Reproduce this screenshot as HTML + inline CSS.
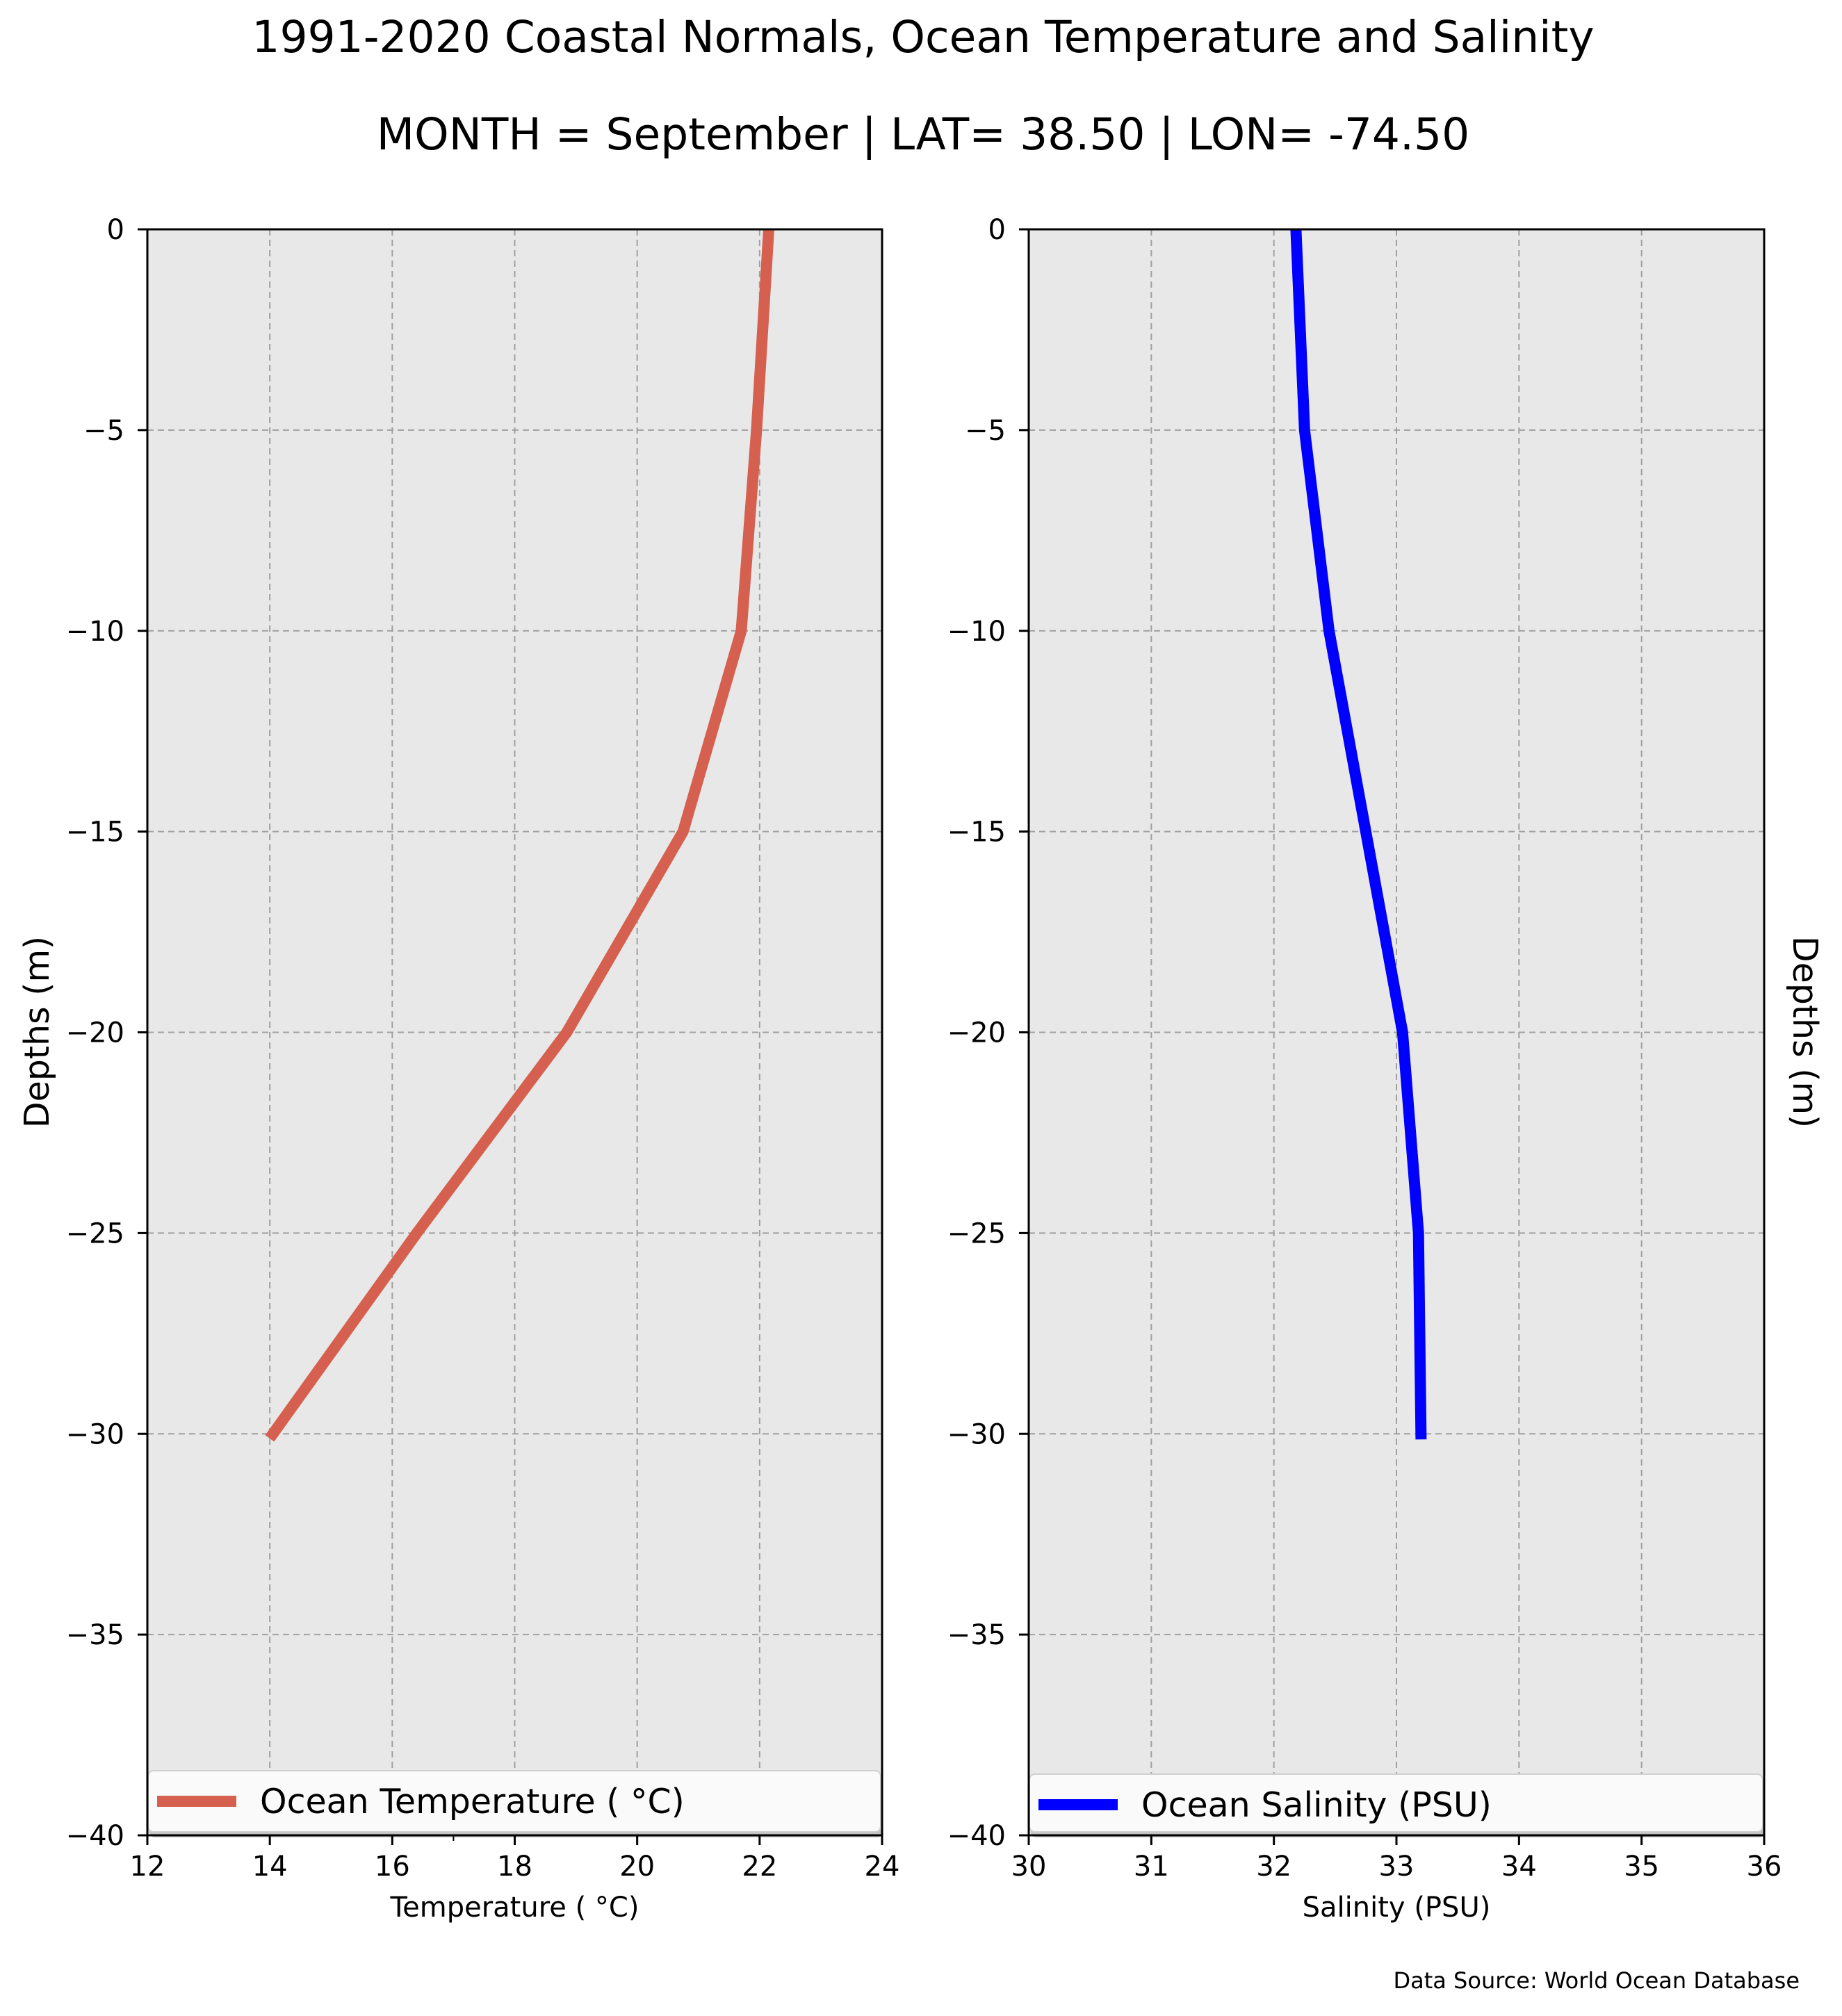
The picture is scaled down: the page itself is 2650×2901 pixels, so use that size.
<!DOCTYPE html>
<html><head><meta charset="utf-8"><style>
html,body{margin:0;padding:0;background:#fff;}
svg{display:block;font-family:"DejaVu Sans","Liberation Sans",sans-serif;}
</style></head><body>
<svg id="chart" width="2650" height="2901" viewBox="0 0 2650 2901" xmlns="http://www.w3.org/2000/svg">
<defs>
<clipPath id="clipL"><rect x="212" y="330" width="1057" height="2311"/></clipPath>
<clipPath id="clipR"><rect x="1480" y="330" width="1058" height="2311"/></clipPath>
</defs>
<text x="1328" y="75" font-size="63" text-anchor="middle">1991-2020 Coastal Normals, Ocean Temperature and Salinity</text>
<text x="1328" y="215" font-size="63" text-anchor="middle">MONTH = September | LAT= 38.50 | LON= -74.50</text>
<g id="panels"></g>
<text x="2589" y="2861" font-size="32" text-anchor="end">Data Source: World Ocean Database</text>
</svg>
<script>
const depths = [0, -5, -10, -15, -20, -25, -30];
const temperature = [22.15, 21.95, 21.7, 20.75, 18.85, 16.4, 14.05];
const salinity = [32.18, 32.25, 32.45, 32.75, 33.05, 33.18, 33.2];
const yTicks = [0, -5, -10, -15, -20, -25, -30, -35, -40];
const yTickLabels = ["0", "\u22125", "\u221210", "\u221215", "\u221220", "\u221225", "\u221230", "\u221235", "\u221240"];
const tempTicks = [12, 14, 16, 18, 20, 22, 24];
const salTicks = [30, 31, 32, 33, 34, 35, 36];

const NS = "http://www.w3.org/2000/svg";
const root = document.getElementById('panels');
function mk(tag, attrs, parent) {
  const e = document.createElementNS(NS, tag);
  for (const k in attrs) e.setAttribute(k, attrs[k]);
  (parent || root).appendChild(e);
  return e;
}
const yTop = 330, yBot = 2641;
function yScale(v) { return yTop + (0 - v) / 40 * (yBot - yTop); }

function panel(cfg) {
  const g = mk('g', {});
  
  
  const x0 = cfg.x0, x1 = cfg.x1;
  const xs = v => x0 + (v - cfg.min) / (cfg.max - cfg.min) * (x1 - x0);
  const bg = mk('rect', {x: x0, y: yTop, width: x1 - x0, height: yBot - yTop, fill: '#e8e8e8'}, g);
  
  
  cfg.ticks.forEach(t => {
    const l = mk('line', {x1: xs(t), x2: xs(t), y1: yTop, y2: yBot, stroke: '#a0a0a0', 'stroke-width': 2, 'stroke-dasharray': '9,6'}, g);
    
    
  });
  yTicks.forEach(t => {
    const l = mk('line', {x1: x0, x2: x1, y1: yScale(t), y2: yScale(t), stroke: '#a0a0a0', 'stroke-width': 2, 'stroke-dasharray': '9,6'}, g);
    
    
  });
  const pts = cfg.values.map((v, i) => xs(v).toFixed(1) + ',' + yScale(depths[i]).toFixed(1)).join(' ');
  const pl = mk('polyline', {points: pts, fill: 'none', stroke: cfg.color, 'stroke-width': 16, 'stroke-linejoin': 'round', 'stroke-linecap': 'square', 'clip-path': 'url(#' + cfg.clip + ')'}, g);
  
  
  const lg = mk('g', {}, g);
  
  
  mk('rect', {x: x0 + 3, y: cfg.legTop + 5, width: x1 - x0 - 2, height: yBot - cfg.legTop - 2, rx: 8, fill: '#b0b0b0', opacity: 0.7}, lg);
  mk('rect', {x: x0 + 1, y: cfg.legTop, width: x1 - x0 - 3, height: yBot - cfg.legTop - 5, rx: 8, fill: '#fafafa', stroke: '#d0d0d0', 'stroke-width': 2}, lg);
  const ls = mk('line', {x1: x0 + 14, x2: x0 + 128, y1: cfg.legTop + 44, y2: cfg.legTop + 44, stroke: cfg.color, 'stroke-width': 16}, lg);
  
  
  const lt = mk('text', {x: x0 + 162, y: cfg.legTop + 61, 'font-size': 49}, lg);
  lt.textContent = cfg.legend;
  
  
  const sp = mk('rect', {x: x0, y: yTop, width: x1 - x0, height: yBot - yTop, fill: 'none', stroke: '#000', 'stroke-width': 3}, g);
  
  
  cfg.ticks.forEach(t => {
    const tk = mk('line', {x1: xs(t), x2: xs(t), y1: yBot, y2: yBot + 14, stroke: '#000', 'stroke-width': 3}, g);
    
    
    const tl = mk('text', {x: xs(t), y: 2699, 'font-size': 40, 'text-anchor': 'middle'}, g);
    tl.textContent = String(t);
    
    
  });
  (cfg.minor || []).forEach(t => {
    const tk = mk('line', {x1: xs(t), x2: xs(t), y1: yBot, y2: yBot + 8, stroke: '#000', 'stroke-width': 2}, g);
    
    
  });
  yTicks.forEach((t, i) => {
    const tk = mk('line', {x1: x0 - 14, x2: x0, y1: yScale(t), y2: yScale(t), stroke: '#000', 'stroke-width': 3}, g);
    
    
    const tl = mk('text', {x: x0 - 33, y: yScale(t) + 14, 'font-size': 40, 'text-anchor': 'end'}, g);
    tl.textContent = yTickLabels[i];
    
    
  });
  const xl = mk('text', {x: (x0 + x1) / 2, y: 2758, 'font-size': 40, 'text-anchor': 'middle'}, g);
  xl.textContent = cfg.xlabel;
  
  
}

panel({name: 'temperature-panel', x0: 212, x1: 1269, min: 12, max: 24, ticks: tempTicks, minor: [17], values: temperature, color: '#d6604f', clip: 'clipL', seriesName: 'temperature-line', legend: 'Ocean Temperature ( \u00b0C)', legTop: 2548, xlabel: 'Temperature ( \u00b0C)'});
panel({name: 'salinity-panel', x0: 1480, x1: 2538, min: 30, max: 36, ticks: salTicks, values: salinity, color: '#0000ff', clip: 'clipR', seriesName: 'salinity-line', legend: 'Ocean Salinity (PSU)', legTop: 2553, xlabel: 'Salinity (PSU)'});

const yl = mk('text', {x: 0, y: 0, 'font-size': 49, 'text-anchor': 'middle', transform: 'translate(70,1485) rotate(-90)'});
yl.textContent = 'Depths (m)';


const yr = mk('text', {x: 0, y: 0, 'font-size': 49, 'text-anchor': 'middle', transform: 'translate(2580,1485) rotate(90)'});
yr.textContent = 'Depths (m)';


</script>
</body></html>
